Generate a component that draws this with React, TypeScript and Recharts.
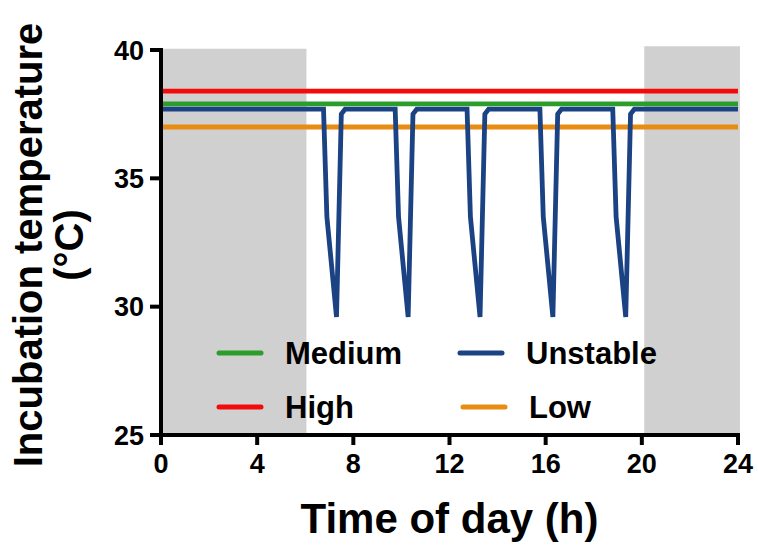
import React from 'react';
import { LineChart, Line, XAxis, YAxis, ReferenceArea, Legend } from 'recharts';

const FONT = '"Liberation Sans", Arial, Helvetica, sans-serif';

const hourTicks = [0, 4, 8, 12, 16, 20, 24];
const tempTicks = [25, 30, 35, 40];

const flatTimes = [0, 24];
const highValues = [38.4, 38.4];
const mediumValues = [37.9, 37.9];
const lowValues = [37.0, 37.0];

const unstableTimes = [
  0,
  6.76, 6.9, 7.3, 7.5, 7.66,
  9.74, 9.88, 10.28, 10.48, 10.64,
  12.73, 12.87, 13.27, 13.47, 13.63,
  15.76, 15.9, 16.3, 16.5, 16.66,
  18.79, 18.93, 19.33, 19.53, 19.69,
  24,
];
const unstableValues = [
  37.7,
  37.7, 33.5, 29.6, 37.5, 37.7,
  37.7, 33.5, 29.6, 37.5, 37.7,
  37.7, 33.5, 29.6, 37.5, 37.7,
  37.7, 33.5, 29.6, 37.5, 37.7,
  37.7, 33.5, 29.6, 37.5, 37.7,
  37.7,
];

const darkStart = [0, 20.1];
const darkEnd = [6.05, 24.08];
const darkTop = [40.05, 40.15];

const seriesNames = ['High', 'Medium', 'Low', 'Unstable'];
const seriesColors = ['#f40a0a', '#2a9d2a', '#e88c12', '#1b4282'];
const legendOrder = ['Medium', 'Unstable', 'High', 'Low'];

const toRows = (ts: number[], vs: number[]) => ts.map((t, i) => ({ t, v: vs[i] }));

const seriesData = [
  toRows(flatTimes, highValues),
  toRows(flatTimes, mediumValues),
  toRows(flatTimes, lowValues),
  toRows(unstableTimes, unstableValues),
];

const LegendContent = (props: any) => {
  const payload: any[] = props.payload || [];
  const colX = [[219, 261, 285], [460, 502, 526]];
  const rowY = [353, 407];
  return (
    <svg width={758} height={547} style={{ position: 'absolute', left: 0, top: 0, overflow: 'visible' }}>
      {legendOrder.map((name, i) => {
        const entry = payload.find((p) => p.value === name);
        const color = entry ? entry.color : '#000';
        const col = colX[i % 2];
        const y = rowY[Math.floor(i / 2)];
        const shift = name === 'Low' ? 3 : 0;
        return (
          <g key={name}>
            <line x1={col[0] + shift} x2={col[1] + shift} y1={y} y2={y} stroke={color} strokeWidth={5} strokeLinecap="round" />
            <text x={col[2] + shift} y={y + 11} fontSize={31} fontWeight="bold" fontFamily={FONT} fill="#000">
              {name}
            </text>
          </g>
        );
      })}
    </svg>
  );
};

const XLabel = (props: any) => {
  const vb = props.viewBox || { x: 161, y: 435, width: 577, height: 112 };
  return (
    <text x={vb.x + vb.width / 2} y={vb.y + 98} textAnchor="middle" fontSize={42} fontWeight="bold" fontFamily={FONT} fill="#000">
      Time of day (h)
    </text>
  );
};

const YLabel = () => {
  const cy = 245;
  return (
    <g>
      <text transform={`translate(42, ${cy}) rotate(-90)`} textAnchor="middle" fontSize={40} fontWeight="bold" fontFamily={FONT} fill="#000">
        Incubation temperature
      </text>
      <text transform={`translate(83, ${cy}) rotate(-90)`} textAnchor="middle" fontSize={40} fontWeight="bold" fontFamily={FONT} fill="#000">
        (°C)
      </text>
    </g>
  );
};

const tickStyle = { fill: '#000', fontSize: 27, fontWeight: 'bold', fontFamily: FONT };

export default function App() {
  return (
    <div style={{ position: 'absolute', left: 0, top: 0, background: '#fff' }}>
      <LineChart width={758} height={547} margin={{ top: 50, right: 20, bottom: 0, left: 0 }}>
        {darkStart.map((s, i) => (
          <ReferenceArea
            key={`dark-${i}`}
            x1={s}
            x2={darkEnd[i]}
            y1={25}
            y2={darkTop[i]}
            fill="#d0d0d0"
            fillOpacity={1}
            stroke="none"
            ifOverflow="visible"
          />
        ))}
        <XAxis
          type="number"
          dataKey="t"
          domain={[0, 24]}
          ticks={hourTicks}
          height={112}
          tick={tickStyle}
          tickSize={10}
          tickMargin={9}
          axisLine={{ stroke: '#000', strokeWidth: 4, strokeLinecap: 'square' }}
          tickLine={{ stroke: '#000', strokeWidth: 4 }}
          allowDataOverflow
          label={{ content: XLabel }}
        />
        <YAxis
          type="number"
          domain={[25, 40]}
          ticks={tempTicks}
          width={161}
          tick={tickStyle}
          tickSize={11}
          tickMargin={6}
          axisLine={{ stroke: '#000', strokeWidth: 4, strokeLinecap: 'square' }}
          tickLine={{ stroke: '#000', strokeWidth: 4 }}
          allowDataOverflow
          label={{ content: YLabel }}
        />
        {seriesNames.map((name, i) => (
          <Line
            key={name}
            data={seriesData[i]}
            dataKey="v"
            name={name}
            type="linear"
            stroke={seriesColors[i]}
            strokeWidth={4.8}
            strokeLinecap="round"
            dot={false}
            activeDot={false}
            legendType="line"
            isAnimationActive={false}
          />
        ))}
        <Legend
          layout="horizontal"
          verticalAlign="middle"
          align="center"
          content={LegendContent}
          wrapperStyle={{ position: 'absolute', left: 0, top: 0, width: 758, height: 547, pointerEvents: 'none' }}
        />
      </LineChart>
    </div>
  );
}
